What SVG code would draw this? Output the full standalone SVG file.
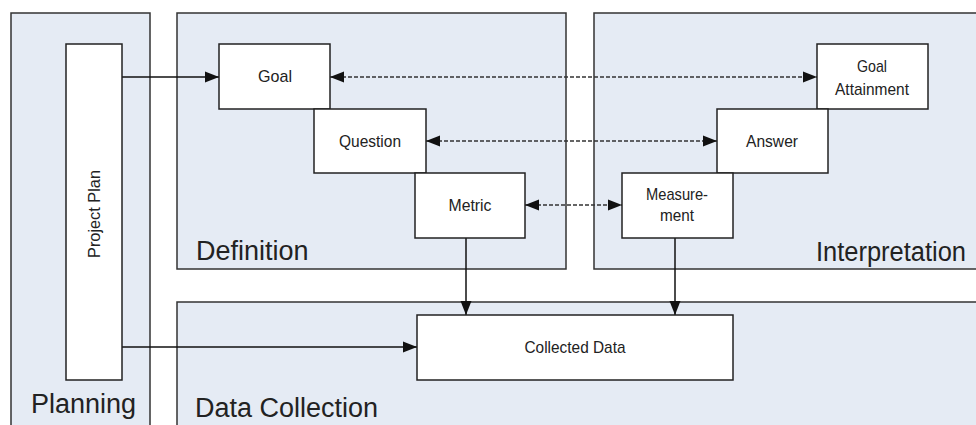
<svg xmlns="http://www.w3.org/2000/svg" width="976" height="425" viewBox="0 0 976 425">
<style>
.panel{fill:#E5EBF4;stroke:#333;stroke-width:1.5}
.box{fill:#fff;stroke:#222;stroke-width:1.5}
.title{font-family:"Liberation Sans",Arial,sans-serif;font-size:27px;fill:#222}
.lbl{font-family:"Liberation Sans",Arial,sans-serif;font-size:17px;fill:#222;text-anchor:middle}
.solid{stroke:#111;stroke-width:1.5;fill:none}
.dash{stroke:#333;stroke-width:1.5;stroke-dasharray:4 2;fill:none}
</style>
<defs>
<marker id="ah" markerUnits="userSpaceOnUse" markerWidth="15" markerHeight="12" refX="14" refY="6" orient="auto-start-reverse" viewBox="0 0 15 12">
<path d="M0,0.5 L14,6 L0,11.5 z" fill="#111"/>
</marker>
</defs>
<rect width="976" height="425" fill="#fff"/>
<g id="panels">
<g id="planning"><rect class="panel" x="11" y="13" width="139" height="420"/><text class="title" x="31" y="413">Planning</text></g>
<g id="definition"><rect class="panel" x="177" y="13" width="389" height="256"/><text class="title" x="196" y="260">Definition</text></g>
<g id="interpretation"><rect class="panel" x="594" y="13" width="390" height="256"/><text class="title" x="816" y="261" textLength="150" lengthAdjust="spacingAndGlyphs">Interpretation</text></g>
<g id="datacollection"><rect class="panel" x="177" y="302" width="807" height="131"/><text class="title" x="195" y="417">Data Collection</text></g>
</g>
<g id="connectors">
<path class="solid" d="M122,77 H219" marker-end="url(#ah)"/>
<path class="solid" d="M122,347 H417" marker-end="url(#ah)"/>
<path class="solid" d="M466,238 V315" marker-end="url(#ah)"/>
<path class="solid" d="M675,238 V315" marker-end="url(#ah)"/>
<path class="dash" d="M330,77 H817" marker-start="url(#ah)" marker-end="url(#ah)"/>
<path class="dash" d="M426,141 H717" marker-start="url(#ah)" marker-end="url(#ah)"/>
<path class="dash" d="M525,205 H622" marker-start="url(#ah)" marker-end="url(#ah)"/>
</g>
<g id="projectplan"><rect class="box" x="66" y="44" width="56" height="336"/><text class="lbl" transform="translate(100,214) rotate(-90)" textLength="88" lengthAdjust="spacingAndGlyphs">Project Plan</text></g>
<g id="goal"><rect class="box" x="219" y="44" width="111" height="65"/><text class="lbl" x="275" y="82" textLength="34" lengthAdjust="spacingAndGlyphs">Goal</text></g>
<g id="question"><rect class="box" x="314" y="109" width="112" height="64"/><text class="lbl" x="370" y="147" textLength="62" lengthAdjust="spacingAndGlyphs">Question</text></g>
<g id="metric"><rect class="box" x="415" y="173" width="110" height="65"/><text class="lbl" x="470" y="211" textLength="43" lengthAdjust="spacingAndGlyphs">Metric</text></g>
<g id="goalattainment"><rect class="box" x="817" y="44" width="111" height="65"/><text class="lbl" x="872" y="72" textLength="30" lengthAdjust="spacingAndGlyphs">Goal</text><text class="lbl" x="872" y="95" textLength="74" lengthAdjust="spacingAndGlyphs">Attainment</text></g>
<g id="answer"><rect class="box" x="717" y="109" width="111" height="64"/><text class="lbl" x="772" y="147" textLength="52" lengthAdjust="spacingAndGlyphs">Answer</text></g>
<g id="measurement"><rect class="box" x="622" y="173" width="111" height="65"/><text class="lbl" x="677" y="200" textLength="62" lengthAdjust="spacingAndGlyphs">Measure-</text><text class="lbl" x="677" y="221" textLength="34" lengthAdjust="spacingAndGlyphs">ment</text></g>
<g id="collecteddata"><rect class="box" x="417" y="315" width="316" height="65"/><text class="lbl" x="575" y="353" textLength="101" lengthAdjust="spacingAndGlyphs">Collected Data</text></g>
</svg>
